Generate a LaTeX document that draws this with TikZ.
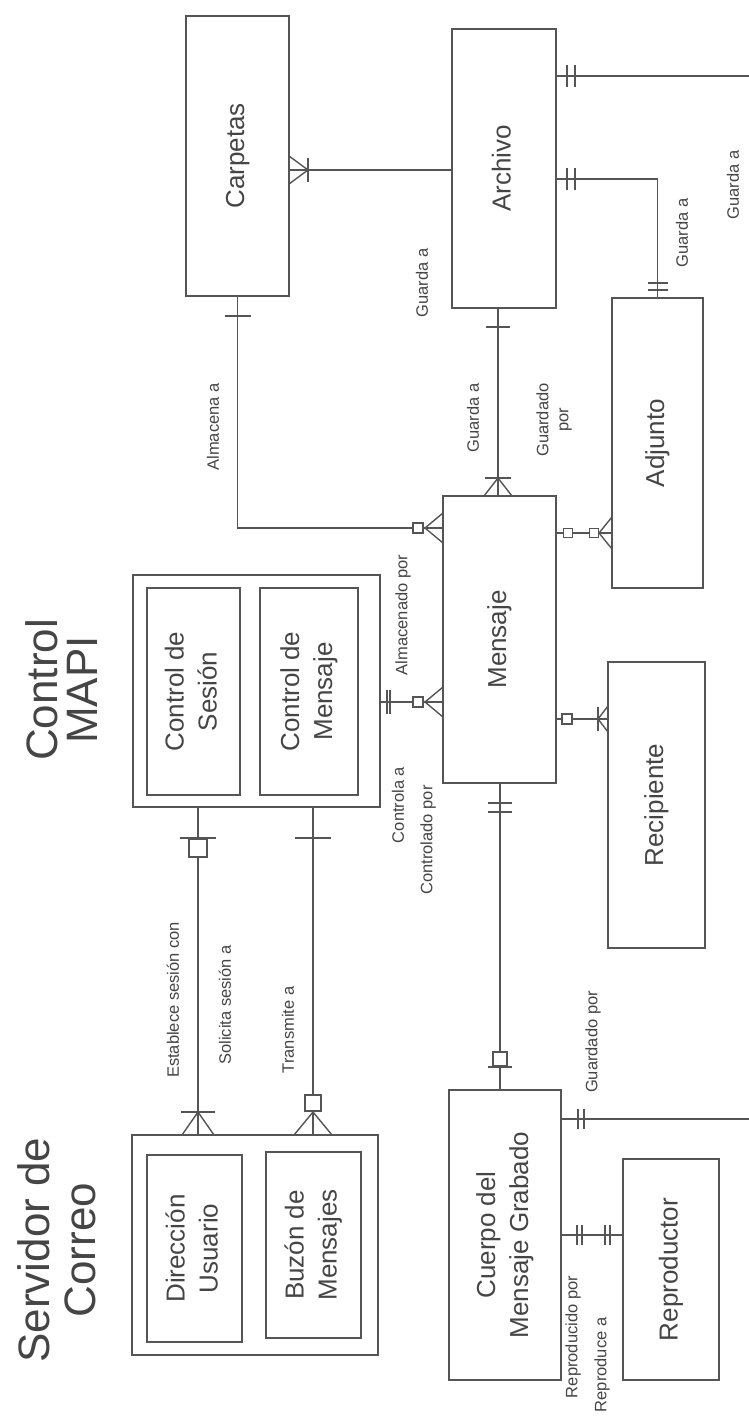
\documentclass[tikz,border=0pt]{standalone}
\usepackage{fontspec}
\setmainfont{Liberation Sans}
\usetikzlibrary{calc}
\definecolor{lncol}{HTML}{555555}
\definecolor{txcol}{HTML}{454545}
\newcommand\rtext[1]{\rotatebox{90}{\begin{tabular}{@{}c@{}}#1\end{tabular}}}
\newcommand\barV[3]{\draw[ln] (#1,#2-#3) -- (#1,#2+#3);}
\newcommand\barH[3]{\draw[ln] (#1-#3,#2) -- (#1+#3,#2);}
\newcommand\crowH[4]{\draw[ln] (#2,#3-#4) -- (#1,#3) -- (#2,#3+#4) (#1,#3) -- (#2,#3);}
\newcommand\crowV[4]{\draw[ln] (#3-#4,#2) -- (#3,#1) -- (#3+#4,#2) (#3,#1) -- (#3,#2);}
\newcommand\mksq[3]{\draw[ln, fill=white] (#1-#3,#2-#3) rectangle (#1+#3,#2+#3);}
\tikzset{
  ln/.style={draw=lncol, line width=1.4pt},
  ent/.style={ln, rectangle, inner sep=0pt, text=txcol, font=\fontsize{26}{33}\selectfont},
  sm/.style={rotate=90, text=txcol, font=\fontsize{16.5}{20}\selectfont, inner sep=0pt, align=center},
  ttl/.style={rotate=90, text=txcol, inner sep=0pt, align=center},
}
\begin{document}
\begin{tikzpicture}[x=1pt,y=-1pt]
\path[use as bounding box, fill=white] (0,0) rectangle (748,1420);

% entities
\node[ent, minimum width=103, minimum height=280] (carp) at (237.5,156) {\rtext{Carpetas}};
\node[ent, minimum width=104, minimum height=279] (arch) at (504,168.5) {\rtext{Archivo}};
\node[ent, minimum width=91, minimum height=290] (adj) at (657.5,443) {\rtext{Adjunto}};
\node[ent, minimum width=113, minimum height=287] (msg) at (499.5,639.5) {\rtext{Mensaje}};
\node[ent, minimum width=97, minimum height=286] (rec) at (656.5,805) {\rtext{Recipiente}};
\node[ent, minimum width=247, minimum height=232] (mapi) at (256.5,691) {};
\node[ent, minimum width=93, minimum height=207] (ses) at (193.5,691.5) {\rtext{Control de\\Sesión}};
\node[ent, minimum width=98, minimum height=207] (cmsg) at (309,691.5) {\rtext{Control de\\Mensaje}};
\node[ent, minimum width=246, minimum height=220] (serv) at (255,1245) {};
\node[ent, minimum width=95, minimum height=187] (dir) at (194.5,1248.5) {\rtext{Dirección\\Usuario}};
\node[ent, minimum width=95, minimum height=186] (buz) at (313.5,1245) {\rtext{Buzón de\\Mensajes}};
\node[ent, minimum width=112, minimum height=290] (cue) at (505,1235) {\rtext{Cuerpo del\\Mensaje Grabado}};
\node[ent, minimum width=96, minimum height=221] (rep) at (671,1269.5) {\rtext{Reproductor}};

% titles
\node[ttl, font=\fontsize{44}{40}\selectfont] (tmapi) at (62,690) {Control\\MAPI};
\node[ttl, font=\fontsize{44}{46}\selectfont] (tserv) at (57,1250) {Servidor de\\Correo};

% 1 Carpetas - Archivo
\draw[ln] (carp.east |- 0,170) -- (arch.west |- 0,170);
\crowH{308}{289}{170}{14} \barV{308}{170}{12}

% 2 Archivo - Cuerpo (long)
\draw[ln] (arch.east |- 0,76) -- (760,76) -- (760,1119) -- (cue.east |- 0,1119);
\barV{567}{76}{11} \barV{575}{76}{11}
\barV{578}{1119}{10} \barV{584}{1119}{10}

% 3 Archivo - Adjunto
\draw[ln] (arch.east |- 0,179) -| (adj.north);
\barV{567}{179}{11} \barV{575}{179}{11}
\barH{657.5}{283}{10} \barH{657.5}{290}{10}

% 4 Carpetas - Mensaje
\draw[ln] (carp.south) |- (msg.west |- 0,528);
\barH{237.5}{316}{13}
\mksq{418}{528}{5} \crowH{425}{443}{528}{15}

% 5 Archivo - Mensaje
\draw[ln] (arch.south -| 498,0) -- (msg.north -| 498,0);
\barH{498}{327}{12}
\barH{498}{478}{13} \crowV{478}{496}{498}{14}

% 6 Mensaje - Adjunto
\draw[ln] (msg.east |- 0,533) -- (adj.west |- 0,533);
\mksq{568}{533}{4.5} \mksq{594}{533}{4.5} \crowH{599}{612}{533}{16}

% 7 Mensaje - Recipiente
\draw[ln] (msg.east |- 0,719) -- (rec.west |- 0,719);
\mksq{567}{719}{5} \barV{598}{719}{12} \crowH{598}{608}{719}{13}

% 8 Control MAPI - Mensaje
\draw[ln] (mapi.east |- 0,702) -- (msg.west |- 0,702);
\barV{387}{702}{12} \barV{390}{702}{12}
\mksq{418}{702}{5} \crowH{425}{443}{702}{15}

% 9 Control MAPI - Servidor (sesion)
\draw[ln] (mapi.south -| 198,0) -- (serv.north -| 198,0);
\barH{198}{838}{18} \mksq{198}{848}{9}
\barH{198}{1112}{17} \crowV{1112}{1135}{198}{16}

% 10 Control MAPI - Servidor (transmite)
\draw[ln] (mapi.south -| 313,0) -- (serv.north -| 313,0);
\barH{313}{838}{18}
\mksq{313}{1103}{8} \crowV{1112}{1135}{313}{19}

% 11 Mensaje - Cuerpo
\draw[ln] (msg.south -| 500,0) -- (cue.north -| 500,0);
\barH{500}{803}{12} \barH{500}{812}{12}
\mksq{500}{1059}{7} \barH{500}{1067}{12}

% 12 Cuerpo - Reproductor
\draw[ln] (cue.east |- 0,1235) -- (rep.west |- 0,1235);
\barV{577}{1235}{10} \barV{582}{1235}{10} \barV{605}{1235}{10} \barV{610}{1235}{10}

% labels
\node[sm] (l1) at (213,427) {Almacena a};
\node[sm] (l2) at (422,283) {Guarda a};
\node[sm] (l3) at (473,418) {Guarda a};
\node[sm] (l4) at (554,420) {Guardado\\por};
\node[sm] (l5) at (682,233) {Guarda a};
\node[sm] (l6) at (733,185) {Guarda a};
\node[sm] (l7) at (403,615) {Almacenado por};
\node[sm] (l8) at (398,805) {Controla a};
\node[sm] (l9) at (428,840) {Controlado por};
\node[sm] (l10) at (173,1000) {Establece sesión con};
\node[sm] (l11) at (225,1005) {Solicita sesión a};
\node[sm] (l12) at (288,1030) {Transmite a};
\node[sm] (l13) at (593,1042) {Guardado por};
\node[sm] (l14) at (573,1337) {Reproducido por};
\node[sm] (l15) at (602,1365) {Reproduce a};
\end{tikzpicture}
\end{document}
